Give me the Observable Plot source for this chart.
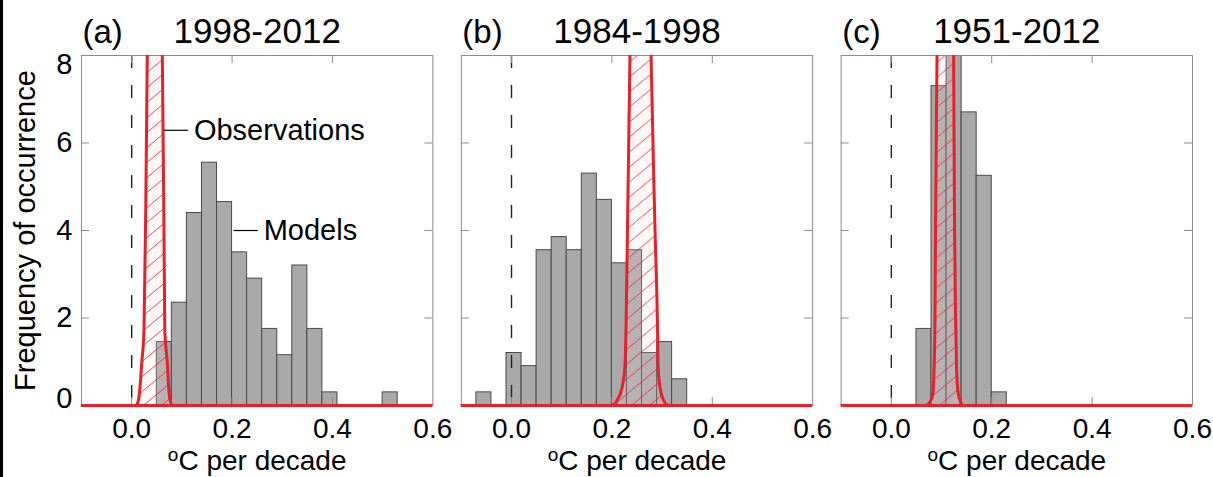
<!DOCTYPE html>
<html><head><meta charset="utf-8">
<script src="https://cdn.jsdelivr.net/npm/d3@7"></script>
<script src="https://cdn.jsdelivr.net/npm/@observablehq/plot@0.6"></script>
<style>
html,body{margin:0;padding:0;background:#fff;}
#wrap{position:relative;width:1213px;height:477px;overflow:hidden;background:#fff;}
#border{position:absolute;left:0;top:0;width:3px;height:477px;background:#000;z-index:2;}
</style></head><body><div id="wrap"><div id="border"></div></div>
<script>
// ---- data ----
const panels = ["a", "b", "c"];
const panelLetters = ["(a)", "(b)", "(c)"];
const periods = ["1998-2012", "1984-1998", "1951-2012"];
const binWidth = 0.03;

// Models histograms (left bin edge, frequency of occurrence)
const binLeftA = [0.05, 0.08, 0.11, 0.14, 0.17, 0.20, 0.23, 0.26, 0.29, 0.32, 0.35, 0.38, 0.50];
const freqA    = [1.45, 2.35, 4.40, 5.55, 4.65, 3.50, 2.90, 1.75, 1.15, 3.20, 1.75, 0.30, 0.30];
const binLeftB = [-0.07, -0.01, 0.02, 0.05, 0.08, 0.11, 0.14, 0.17, 0.20, 0.23, 0.26, 0.29, 0.32];
const freqB    = [0.30, 1.20, 0.90, 3.55, 3.85, 3.55, 5.30, 4.70, 3.25, 3.55, 1.20, 1.45, 0.60];
const binLeftC = [0.05, 0.08, 0.11, 0.14, 0.17, 0.20];
const freqC    = [1.75, 7.30, 12.0, 6.70, 5.25, 0.30];

// Observations distributions (trend, frequency), peaks run off the top of the axes
const obsXA = [-0.1, 0.008, 0.013, 0.016, 0.020, 0.0245, 0.028, 0.031, 0.034, 0.046, 0.058, 0.061, 0.064, 0.066, 0.071, 0.074, 0.077, 0.082, 0.6];
const obsYA = [0, 0, 0.1, 0.35, 0.97, 1.72, 4.5, 8, 11, 13, 11, 8, 4.5, 1.72, 0.97, 0.35, 0.1, 0, 0];
const obsXB = [-0.1, 0.195, 0.205, 0.212, 0.220, 0.226, 0.228, 0.231, 0.236, 0.240, 0.257, 0.274, 0.278, 0.286, 0.291, 0.292, 0.296, 0.302, 0.308, 0.315, 0.6];
const obsYB = [0, 0, 0.03, 0.15, 0.4, 0.9, 1.7, 4.0, 8, 11, 13, 11, 8, 4.0, 1.7, 0.9, 0.4, 0.15, 0.03, 0, 0];
const obsXC = [-0.1, 0.068, 0.075, 0.080, 0.083, 0.085, 0.087, 0.088, 0.091, 0.093, 0.108, 0.122, 0.124, 0.126, 0.128, 0.130, 0.133, 0.136, 0.139, 0.144, 0.6];
const obsYC = [0, 0, 0.05, 0.15, 0.3, 0.8, 2.0, 4.0, 8, 11, 13, 11, 8, 4.0, 2.0, 0.8, 0.3, 0.15, 0.05, 0, 0];

// axis ticks
const xTickLabels = [0, 0.2, 0.4, 0.6];
const xTicks = [0, 0.2, 0.4];
const yTicks = [2, 4, 6];

// annotations (panel a)
const annotText = ["Observations", "Models"];
const annotX = [0.124, 0.263];
const annotY = [6.29, 4.0];
const leaderX1 = [0.064, 0.203];
const leaderX2 = [0.112, 0.251];

// ---- tables ----
const bars = [];
[[binLeftA, freqA], [binLeftB, freqB], [binLeftC, freqC]].forEach(([L, F], i) => {
  L.forEach((x, j) => bars.push({panel: panels[i], x1: x, x2: x + binWidth, freq: F[j]}));
});
const obs = [];
[[obsXA, obsYA], [obsXB, obsYB], [obsXC, obsYC]].forEach(([X, Y], i) => {
  X.forEach((x, j) => obs.push({panel: panels[i], x, y: Y[j]}));
});
const titles = panels.map((p, i) => ({panel: p, letter: panelLetters[i], period: periods[i]}));
const annots = annotText.map((t, i) => ({panel: "a", text: t, x: annotX[i], y: annotY[i], lx1: leaderX1[i], lx2: leaderX2[i]}));
const yLabel = [{panel: "a", text: "Frequency of occurrence"}];

// ---- layout ----
const W = 1213, H = 477, mL = 81, mR = 21, mT = 55, mB = 72;
const plotH = H - mT - mB;
const pInner = 0.075;
const bandW = (W - mL - mR) / (3 - pInner) * (1 - pInner);
const tick = 8;
const red = "#e8202a";
const frameGray = "#8c8c8c";
const font = "'Liberation Sans', Arial, Helvetica, sans-serif";

const chart = Plot.plot({
  width: W, height: H,
  marginLeft: mL, marginRight: mR, marginTop: mT, marginBottom: mB,
  style: {fontFamily: font, fontSize: "29px", color: "#000", background: "#fff"},
  fx: {domain: panels, axis: null, paddingInner: pInner, paddingOuter: 0, round: false},
  x: {domain: [-0.1, 0.6]},
  y: {domain: [0, 8]},
  marks: [
    Plot.rectY(bars, {fx: "panel", x1: "x1", x2: "x2", y1: 0, y2: "freq", fill: "#a9a9a9", stroke: "#4a4a4a", strokeWidth: 1, clip: true}),
    Plot.ruleX([0], {stroke: "#222", strokeWidth: 1.4, strokeDasharray: "13,17"}),
    Plot.areaY(obs, {fx: "panel", x: "x", y: "y", fill: "url(#hatch)", curve: "monotone-x", clip: true}),
    Plot.frame({stroke: frameGray}),
    Plot.tickX(xTicks, {x: d => d, stroke: frameGray, insetBottom: plotH - tick}),
    Plot.tickX(xTicks, {x: d => d, stroke: frameGray, insetTop: plotH - tick}),
    Plot.tickY(yTicks, {y: d => d, stroke: frameGray, insetRight: bandW - tick}),
    Plot.tickY(yTicks, {y: d => d, stroke: frameGray, insetLeft: bandW - tick}),
    Plot.ruleY([0], {stroke: red, strokeWidth: 3}),
    Plot.line(obs, {fx: "panel", x: "x", y: "y", z: "panel", stroke: red, strokeWidth: 3, curve: "monotone-x", clip: true}),
    Plot.axisX({ticks: xTickLabels, tickFormat: d3.format(".1f"), tickSize: 0, tickPadding: 13, fontSize: 28, label: null}),
    Plot.axisY({ticks: yTicks, tickSize: 0, tickPadding: 9, fontSize: 29, label: null}),
    Plot.axisY({ticks: [8], tickSize: 0, tickPadding: 9, fontSize: 29, label: null, dy: 9}),
    Plot.axisY({ticks: [0], tickSize: 0, tickPadding: 9, fontSize: 29, label: null, dy: -7}),
    Plot.text(titles, {fx: "panel", text: "period", frameAnchor: "top", lineAnchor: "bottom", dy: -13, fontSize: 35}),
    Plot.text(titles, {fx: "panel", text: "letter", frameAnchor: "top-left", textAnchor: "start", lineAnchor: "bottom", dx: 1, dy: -13, fontSize: 33}),
    Plot.text(["oC per decade"], {text: d => d, frameAnchor: "bottom", lineAnchor: "bottom", dy: 64, fontSize: 28}),
    Plot.text(yLabel, {fx: "panel", text: "text", frameAnchor: "left", textAnchor: "middle", lineAnchor: "middle", rotate: -90, dx: -56, fontSize: 29}),
    Plot.link(annots, {fx: "panel", x1: "lx1", x2: "lx2", y1: "y", y2: "y", stroke: "#000", strokeWidth: 1.2}),
    Plot.text(annots, {fx: "panel", x: "x", y: "y", text: "text", textAnchor: "start", fontSize: 29})
  ]
});

// hatch pattern
const ns = "http://www.w3.org/2000/svg";
const defs = document.createElementNS(ns, "defs");
defs.innerHTML = `<pattern id="hatch" patternUnits="userSpaceOnUse" width="18" height="15">
  <rect width="18" height="15" fill="rgba(255,215,215,0.18)"/>
  <path d="M0,15 L18,0 M-1.2,1 L1.2,-1 M16.8,16 L19.2,14" stroke="${red}" stroke-width="1" stroke-opacity="0.8" fill="none"/>
</pattern>`;
chart.insertBefore(defs, chart.firstChild);

// superscript "o" in the x-axis label
chart.querySelectorAll("text").forEach(t => {
  if (t.textContent === "oC per decade") {
    t.textContent = "";
    const s1 = document.createElementNS(ns, "tspan");
    s1.setAttribute("font-size", "19");
    s1.setAttribute("dy", "-9");
    s1.textContent = "o";
    const s2 = document.createElementNS(ns, "tspan");
    s2.setAttribute("dy", "9");
    s2.textContent = "C per decade";
    t.appendChild(s1); t.appendChild(s2);
  }
});

const wrap = document.getElementById("wrap");
wrap.insertBefore(chart, wrap.firstChild);
</script>
</body></html>
